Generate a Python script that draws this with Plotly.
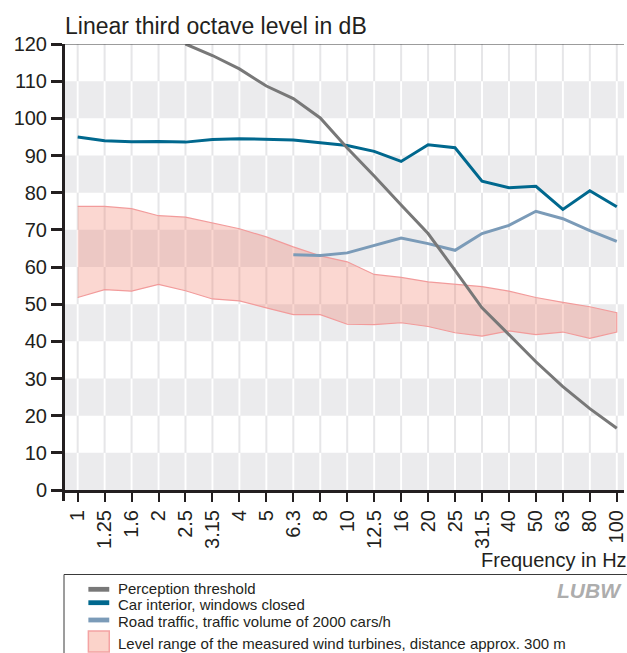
import plotly.graph_objects as go

# ---------------- data ----------------
freq_labels = ["1", "1.25", "1.6", "2", "2.5", "3.15", "4", "5", "6.3", "8", "10",
               "12.5", "16", "20", "25", "31.5", "40", "50", "63", "80", "100"]

perception_threshold = [None, None, None, None, 120.0, 116.9, 113.3, 108.7, 105.3, 100.1,
                        92.0, 84.5, 76.7, 69.0, 59.1, 49.0, 41.8, 34.5, 27.8, 21.9, 16.6]

car_interior = [95.0, 94.0, 93.7, 93.8, 93.6, 94.3, 94.5, 94.4, 94.2, 93.4, 92.7,
                91.1, 88.4, 92.9, 92.1, 83.1, 81.3, 81.7, 75.5, 80.5, 76.2]

road_traffic = [None, None, None, None, None, None, None, None, 63.3, 63.1, 63.8,
                65.7, 67.8, 66.3, 64.5, 69.0, 71.2, 75.0, 73.0, 69.8, 66.9]

wind_upper = [76.3, 76.3, 75.7, 73.8, 73.4, 71.9, 70.3, 68.1, 65.4, 63.0, 61.4,
              58.0, 57.2, 56.0, 55.4, 54.7, 53.5, 51.8, 50.5, 49.3, 47.7]
wind_lower = [51.8, 53.9, 53.5, 55.3, 53.6, 51.4, 50.9, 49.0, 47.2, 47.2, 44.6,
              44.5, 45.0, 44.0, 42.3, 41.4, 42.8, 41.8, 42.5, 40.8, 42.5]

y_ticks = list(range(0, 130, 10))
band_starts = [0, 20, 40, 60, 80, 100]

legend_labels = ["Perception threshold", "Car interior, windows closed",
                 "Road traffic, traffic volume of 2000 cars/h",
                 "Level range of the measured wind turbines, distance approx. 300 m"]

# ---------------- styles ----------------
FONT = "Liberation Sans, Arial, Helvetica, sans-serif"
INK = "#231f20"
C_PERC = "#787878"
C_CAR = "#00688e"
C_ROAD = "#7b9bb8"
C_FILL = "rgba(240,112,88,0.28)"
C_FILL_LINE = "#f29b9b"
BAND = "#ebebed"
GRID = "#e6e6e8"

W, H = 627, 653
L, R, T, B = 65, 0, 44, 163
PW, PH = W - L - R, H - T - B


def px(X):
    return (X - L) / PW


def py(Y):
    return (H - B - Y) / PH


fig = go.Figure()

# wind turbine range (closed polygon)
fig.add_trace(go.Scatter(
    x=freq_labels + freq_labels[::-1],
    y=wind_upper + wind_lower[::-1],
    mode="lines", fill="toself", fillcolor=C_FILL,
    line=dict(color=C_FILL_LINE, width=1.2),
    showlegend=False, hoverinfo="skip"))

fig.add_trace(go.Scatter(x=freq_labels, y=road_traffic, mode="lines",
                         line=dict(color=C_ROAD, width=3), showlegend=False))
fig.add_trace(go.Scatter(x=freq_labels, y=car_interior, mode="lines",
                         line=dict(color=C_CAR, width=3), showlegend=False))
fig.add_trace(go.Scatter(x=freq_labels, y=perception_threshold, mode="lines",
                         line=dict(color=C_PERC, width=3), showlegend=False))

shapes = []
n = len(freq_labels)
# light vertical grid lines over full height
for i in range(n):
    shapes.append(dict(type="line", xref="x", yref="y", x0=i, x1=i, y0=0, y1=120,
                       line=dict(color=GRID, width=2), layer="below"))
# grey bands
for lo in band_starts:
    shapes.append(dict(type="rect", xref="paper", yref="y", x0=0, x1=1, y0=lo, y1=lo + 10,
                       fillcolor=BAND, line=dict(width=0), layer="below"))
    for i in range(n):
        shapes.append(dict(type="line", xref="x", yref="y", x0=i, x1=i, y0=lo, y1=lo + 10,
                           line=dict(color="white", width=2), layer="below"))
# top line at 120
shapes.append(dict(type="line", xref="paper", yref="y", x0=0, x1=1, y0=120, y1=120,
                   line=dict(color="#3a3a3a", width=1.2), layer="above"))
# y axis line extension below x axis
shapes.append(dict(type="line", xref="paper", yref="paper", x0=px(63.5), x1=px(63.5),
                   y0=py(489), y1=py(501), line=dict(color=INK, width=3), layer="above"))

# legend box
shapes.append(dict(type="rect", xref="paper", yref="paper", x0=px(64), x1=px(700),
                   y0=py(574.5), y1=py(720), line=dict(color="#3a3a3a", width=1),
                   fillcolor="rgba(0,0,0,0)", layer="above"))
# legend symbols
for Yc, col in [(589.3, C_PERC), (602.7, C_CAR), (620.0, C_ROAD)]:
    shapes.append(dict(type="rect", xref="paper", yref="paper", x0=px(88.5), x1=px(109.5),
                       y0=py(Yc + 2.4), y1=py(Yc - 2.4), fillcolor=col,
                       line=dict(width=0), layer="above"))
shapes.append(dict(type="rect", xref="paper", yref="paper", x0=px(88.5), x1=px(109.5),
                   y0=py(652), y1=py(631), fillcolor="#fbd3ca",
                   line=dict(color="#f4a3a3", width=1.5), layer="above"))

annotations = []
annotations.append(dict(text="Linear third octave level in dB", xref="paper", yref="paper",
                        x=px(62.5), y=py(26), xanchor="left", yanchor="middle", showarrow=False,
                        font=dict(family=FONT, size=23, color=INK)))
annotations.append(dict(text="Frequency in Hz", xref="paper", yref="paper",
                        x=px(481), y=py(560), xanchor="left", yanchor="middle", showarrow=False,
                        font=dict(family=FONT, size=20, color=INK)))
for Yc, lab in zip([588.8, 604.3, 621.5, 643.5], legend_labels):
    annotations.append(dict(text=lab, xref="paper", yref="paper", x=px(116), y=py(Yc),
                            xanchor="left", yanchor="middle", showarrow=False,
                            font=dict(family=FONT, size=15, color=INK)))
annotations.append(dict(text="<b><i>LUBW</i></b>", xref="paper", yref="paper",
                        x=px(592), y=py(590.5), xanchor="center", yanchor="middle",
                        showarrow=False, font=dict(family=FONT, size=21, color="#adadad")))

fig.update_layout(
    width=W, height=H,
    margin=dict(l=L, r=R, t=T, b=B, pad=0),
    paper_bgcolor="white", plot_bgcolor="white",
    showlegend=False,
    shapes=shapes, annotations=annotations,
    font=dict(family=FONT, color=INK),
    xaxis=dict(type="category", categoryorder="array", categoryarray=freq_labels,
               range=[-0.47, -0.47 + PW / 27.1],
               showgrid=False, zeroline=False,
               showline=True, linecolor=INK, linewidth=3,
               ticks="outside", ticklen=9, tickwidth=2, tickcolor=INK,
               tickangle=-90, tickfont=dict(family=FONT, size=20, color=INK)),
    yaxis=dict(range=[0, 120], tickvals=y_ticks, showgrid=False, zeroline=False,
               showline=True, linecolor=INK, linewidth=3,
               ticks="outside", ticklen=11, tickwidth=2.5, tickcolor=INK,
               tickfont=dict(family=FONT, size=20, color=INK)),
)

fig.write_html(
    "out.html",
    config={"displayModeBar": False},
    post_script="document.body.style.margin='0';document.body.style.overflow='hidden';"
                "document.documentElement.style.overflow='hidden';",
)
